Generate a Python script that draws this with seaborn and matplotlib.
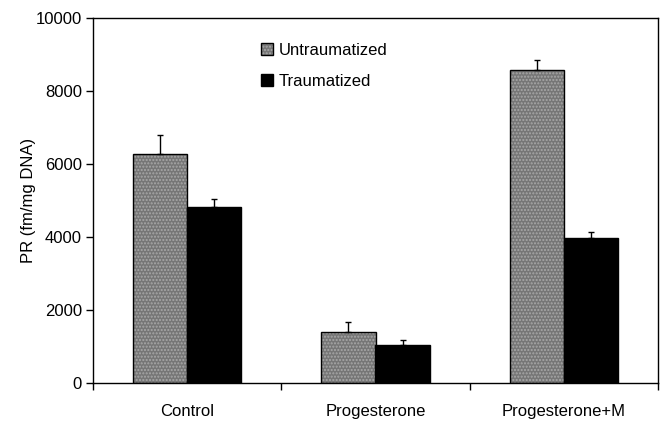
import numpy as np
import pandas as pd
import matplotlib
matplotlib.use('Agg')
import matplotlib.pyplot as plt
import seaborn as sns

groups = ['Control', 'Progesterone', 'Progesterone+M']
conditions = ['Untraumatized', 'Traumatized']
untraumatized = [6270, 1390, 8580]
untraumatized_err = [530, 290, 260]
traumatized = [4830, 1040, 3960]
traumatized_err = [200, 130, 185]

df = pd.DataFrame({
    'group': groups * 2,
    'condition': [conditions[0]] * 3 + [conditions[1]] * 3,
    'value': untraumatized + traumatized,
})
errs = [untraumatized_err, traumatized_err]

sns.set_style('white')
plt.rcParams['font.family'] = ['Liberation Sans', 'DejaVu Sans']
plt.rcParams['text.color'] = 'black'
plt.rcParams['axes.labelcolor'] = 'black'
plt.rcParams['xtick.color'] = 'black'
plt.rcParams['ytick.color'] = 'black'

dot_color = (0.66, 0.66, 0.66, 1)

fig = plt.figure(figsize=(6.61, 4.21), dpi=100)
ax = fig.add_axes([93 / 661, 1 - 383 / 421, 565 / 661, 365 / 421])

sns.barplot(data=df, x='group', y='value', hue='condition', order=groups,
            hue_order=conditions, palette=['#767676', 'black'],
            width=0.575, errorbar=None, edgecolor='black', linewidth=1,
            saturation=1, ax=ax)

# dotted texture on the grey bars (light dots, black outline)
for b in ax.containers[0]:
    b.set_hatch('.....')
    b._hatch_color = dot_color

# one-sided error bars on top of each bar
for cont, err in zip(ax.containers, errs):
    xs = [b.get_x() + b.get_width() / 2 for b in cont]
    ys = [b.get_height() for b in cont]
    ax.errorbar(xs, ys, yerr=[np.zeros(len(err)), err], fmt='none',
                ecolor='black', elinewidth=1, capsize=2.3, capthick=1)

ax.set_xlim(-0.5, 2.5)
ax.set_ylim(0, 10000)
ax.set_yticks(np.arange(0, 10001, 2000))
ax.set_xticks([-0.5, 0.5, 1.5, 2.5])
ax.set_xticklabels([])
ax.set_xticks([0, 1, 2], minor=True)
ax.set_xticklabels(groups, minor=True)
ax.tick_params(axis='x', which='major', direction='out', length=5, width=1,
               color='black', bottom=True)
ax.tick_params(axis='x', which='minor', length=0, pad=15, labelsize=12)
ax.tick_params(axis='y', direction='out', length=5, width=1, color='black',
               left=True, labelsize=12, pad=3)
ax.set_xlabel('')
ax.set_ylabel('PR (fm/mg DNA)', fontsize=12, labelpad=0)

for s in ax.spines.values():
    s.set_visible(True)
    s.set_color('black')
    s.set_linewidth(1)

handles, labels = ax.get_legend_handles_labels()
handles[0].set_hatch('.....')
handles[0]._hatch_color = dot_color
ax.legend(handles, labels, loc='upper left', bbox_to_anchor=(0.298, 0.931),
          frameon=False, fontsize=12, handlelength=0.72, handleheight=0.72,
          handletextpad=0.3, labelspacing=0.95, borderpad=0, borderaxespad=0)

fig.savefig('out.png', dpi=100)
